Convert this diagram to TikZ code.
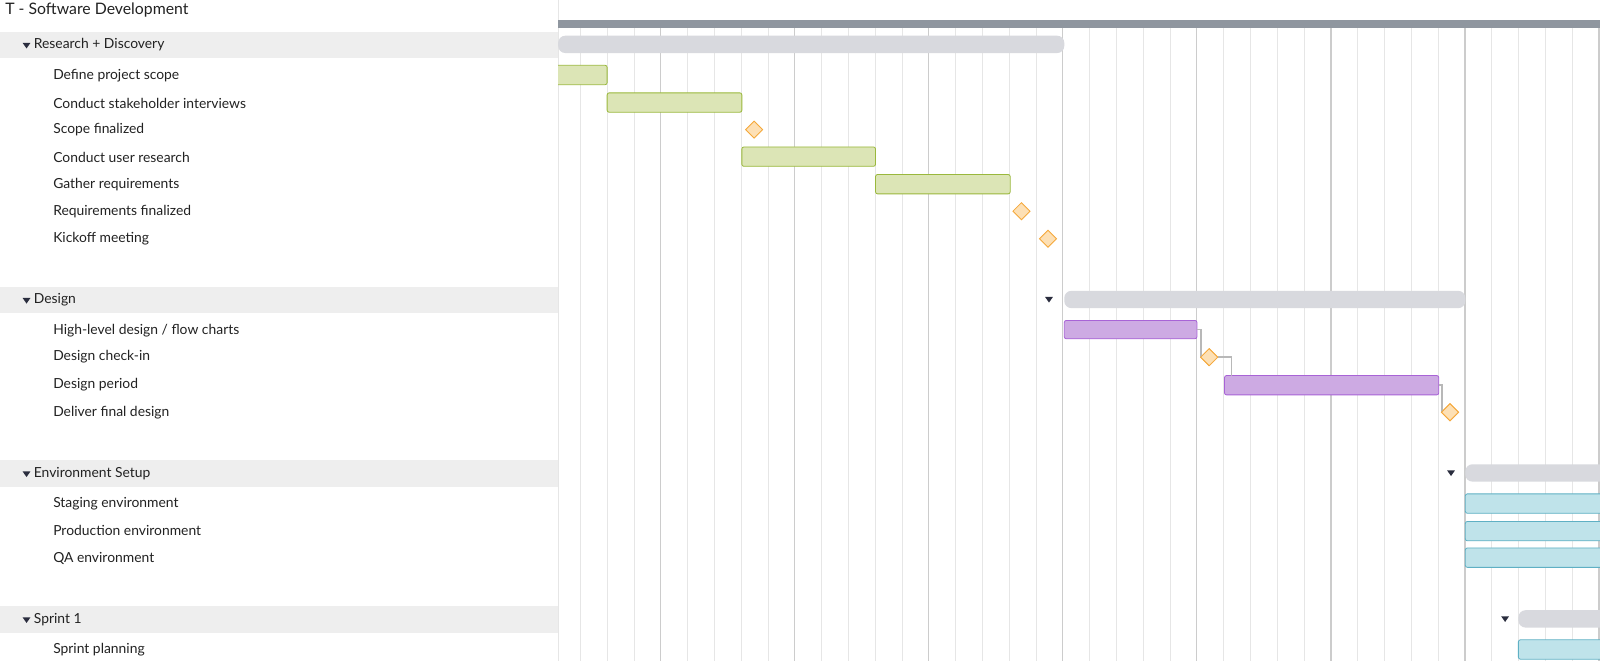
\documentclass[tikz,border=0pt]{standalone}
\usepackage{fontspec}
\usetikzlibrary{shapes.geometric}
\setmainfont{Lato}
\definecolor{grp}{HTML}{EEEEEE}
\definecolor{sumbar}{HTML}{D8D9DE}
\definecolor{tline}{HTML}{8F969F}
\definecolor{gfill}{HTML}{DCE5B6}\definecolor{gdraw}{HTML}{9AB83C}
\definecolor{pfill}{HTML}{CDAAE3}\definecolor{pdraw}{HTML}{A863D6}
\definecolor{bfill}{HTML}{BFE3EA}\definecolor{bdraw}{HTML}{5FB0C4}
\definecolor{dfill}{HTML}{FDE0B5}\definecolor{ddraw}{HTML}{F5A83A}
\definecolor{gridl}{HTML}{E6E6E6}\definecolor{gridd}{HTML}{CCCCCC}
\definecolor{txt}{HTML}{222222}\definecolor{tricol}{HTML}{2A2D3E}
\begin{document}
\begin{tikzpicture}[x=1pt,y=-1pt,
  lbl/.style={anchor=west,inner sep=0pt,text=txt,font=\fontsize{13.6}{15}\selectfont},
  bar/.style={rounded corners=2pt,line width=0.8pt},
  gbar/.style={bar,fill=gfill,draw=gdraw},
  pbar/.style={bar,fill=pfill,draw=pdraw},
  bbar/.style={bar,fill=bfill,draw=bdraw},
  sbar/.style={fill=sumbar,rounded corners=7pt},
  ms/.style={diamond,aspect=1,fill=dfill,draw=ddraw,line width=0.8pt,minimum size=17pt,inner sep=0pt},
  tri/.style={fill=tricol,isosceles triangle,shape border rotate=-90,isosceles triangle apex angle=70,minimum size=5.5pt,inner sep=0pt},
  link/.style={draw=gridd!90!black,line width=1.6pt}]
\useasboundingbox (0,0) rectangle (1568,648);
\fill[white] (0,0) rectangle (1568,648);
% grid
\foreach \k in {0,...,38}{
  \pgfmathsetmacro\xx{568.7+26.27*\k}
  \pgfmathtruncatemacro\m{mod(\k,5)}
  \ifnum\m=3 \draw[gridd,line width=1.2pt] (\xx,20) -- (\xx,648);
  \else \draw[gridl,line width=0.8pt] (\xx,20) -- (\xx,648); \fi
}
\draw[gridl,line width=0.8pt] (547,0) -- (547,648);
% group bands
\foreach \y in {31,281,451,594}{\fill[grp] (0,\y) rectangle (547,\y+26);}
\fill[tline] (547,20) rectangle (1568,27);
\node[lbl,font=\fontsize{15.5}{17}\selectfont] (title) at (5,10) {T - Software Development};
% group labels
\node[tri] (t1) at (26,44) {};\node[lbl] (g1) at (33,44) {Research + Discovery};
\node[tri] (t2) at (26,294) {};\node[lbl] (g2) at (33,294) {Design};
\node[tri] (t3) at (26,464) {};\node[lbl] (g3) at (33,464) {Environment Setup};
\node[tri] (t4) at (26,607) {};\node[lbl] (g4) at (33,607) {Sprint 1};
% tasks
\node[lbl] (a1) at (52,74) {Define project scope};
\node[lbl] (a2) at (52,101) {Conduct stakeholder interviews};
\node[lbl] (a3) at (52,127) {Scope finalized};
\node[lbl] (a4) at (52,154) {Conduct user research};
\node[lbl] (a5) at (52,181) {Gather requirements};
\node[lbl] (a6) at (52,207) {Requirements finalized};
\node[lbl] (a7) at (52,234) {Kickoff meeting};
\node[lbl] (b1) at (52,324) {High-level design / flow charts};
\node[lbl] (b2) at (52,350) {Design check-in};
\node[lbl] (b3) at (52,377) {Design period};
\node[lbl] (b4) at (52,404) {Deliver final design};
\node[lbl] (c1) at (52,494) {Staging environment};
\node[lbl] (c2) at (52,520) {Production environment};
\node[lbl] (c3) at (52,547) {QA environment};
\node[lbl] (d1) at (52,637) {Sprint planning};
% summary bars
\fill[sbar] (547,35) rectangle (1043,52);
\fill[sbar] (1043,285) rectangle (1436,302);
\fill[sbar] (1436,455) rectangle (1575,472);
\fill[sbar] (1488,598) rectangle (1575,615);
\node[tri] (s2) at (1028,293) {};
\node[tri] (s3) at (1422,463) {};
\node[tri] (s4) at (1475,606) {};
% green
\begin{scope}
\clip (547,0) rectangle (1568,648);
\draw[gbar] (540,64) rectangle (595,83);
\end{scope}
\draw[gbar] (595,91) rectangle (727,110);
\draw[gbar] (727,144) rectangle (858,163);
\draw[gbar] (858,171) rectangle (990,190);
\node[ms] (m1) at (739,127) {};
\node[ms] (m2) at (1001,207) {};
\node[ms] (m3) at (1027,234) {};
% purple
\draw[pbar] (1043,314) rectangle (1173,332);
\draw[pbar] (1200,368) rectangle (1410,387);
\coordinate (p1r) at (1173,323);
\coordinate (p2t) at (1207,368);
\coordinate (p2r) at (1410,377);
\node[ms] (m4) at (1185,350) {};
\node[ms] (m5) at (1421,404) {};
\draw[link] (p1r) -| ([xshift=1pt]m4.west) ;
\draw[link] (m4.east) -| (p2t);
\draw[link] (p2r) -| ([xshift=1pt]m5.west);
\node[ms] at (m4) {};\node[ms] at (m5) {};
% blue
\draw[bbar] (1436,484) rectangle (1575,503);
\draw[bbar] (1436,511) rectangle (1575,530);
\draw[bbar] (1436,537) rectangle (1575,556);
\draw[bbar] (1488,627) rectangle (1575,646);
\end{tikzpicture}
\end{document}
